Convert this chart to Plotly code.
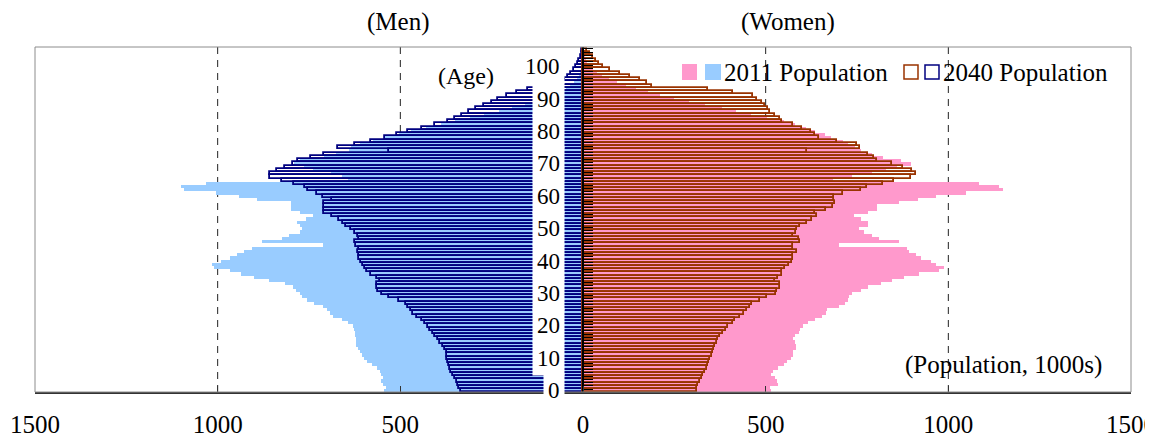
import plotly.graph_objects as go

ages = list(range(106))
age_labels = list(range(0, 101, 10))
x_tickvals = [-1500, -1000, -500, 0, 500, 1000, 1500]
x_ticktext = ["1500", "1000", "500", "0", "500", "1000", "1500"]
grid_vals = [-1000, -500, 500, 1000]

men_2011 = [545, 540, 548, 552, 548, 552, 555, 565, 578, 590,
            600, 606, 610, 615, 620, 620, 622, 625, 625, 628,
            630, 642, 660, 685, 692, 700, 712, 735, 755, 768,
            775, 785, 795, 815, 860, 900, 935, 965, 1010, 1015,
            990, 965, 946, 927, 905, 713, 878, 823, 804, 776,
            768, 775, 782, 757, 740, 776, 798, 798, 798, 891,
            941, 1004, 1092, 1100, 1031, 642, 660, 690, 740, 765,
            790, 775, 710, 675, 640, 635, 610, 575, 545, 505,
            470, 430, 390, 350, 310, 270, 230, 195, 160, 130,
            100, 80, 62, 46, 35, 25, 17, 12, 8, 5,
            3.5, 2, 1.2, 0.8, 0.5, 0.3]

women_2011 = [515, 512, 535, 530, 526, 515, 520, 535, 549, 559,
              570, 576, 576, 584, 584, 580, 576, 580, 590, 595,
              603, 617, 636, 655, 665, 669, 700, 718, 724, 727,
              735, 760, 779, 815, 845, 878, 919, 974, 988, 966,
              952, 925, 911, 892, 888, 700, 864, 809, 792, 768,
              755, 779, 779, 760, 741, 779, 806, 806, 864, 916,
              966, 1048, 1149, 1138, 1084, 683, 737, 790, 830, 860,
              897, 870, 820, 790, 760, 745, 725, 713, 680, 662,
              635, 610, 580, 550, 505, 460, 420, 380, 335, 290,
              250, 212, 178, 145, 118, 92, 70, 52, 38, 27,
              18, 12, 8, 5, 3, 2]

men_2040 = [335, 339, 342, 346, 350, 355, 360, 363, 366, 369,
            371, 372, 373, 377, 384, 392, 398, 405, 411, 418,
            425, 433, 442, 454, 464, 470, 478, 485, 505, 530,
            550, 560, 565, 565, 555, 565, 579, 590, 598, 603,
            608, 612, 614, 616, 612, 621, 625, 612, 616, 625,
            635, 648, 658, 667, 688, 710, 710, 710, 710, 686,
            713, 727, 752, 760, 792, 823, 857, 857, 838, 815,
            795, 780, 745, 710, 530, 670, 625, 579, 543, 510,
            480, 440, 405, 370, 351, 332, 312, 292, 270, 250,
            232, 208, 180, 150, 72, 57, 49, 40, 32, 26,
            20, 14, 10, 6, 4, 2]

women_2040 = [311, 313, 316, 320, 325, 329, 334, 339, 343, 345,
              348, 353, 356, 359, 361, 366, 370, 375, 384, 392,
              398, 411, 417, 431, 440, 449, 456, 463, 485, 505,
              527, 532, 538, 540, 525, 535, 545, 545, 552, 563,
              572, 575, 576, 587, 576, 576, 593, 590, 576, 582,
              587, 595, 614, 628, 641, 636, 664, 683, 691, 686,
              686, 713, 760, 778, 820, 851, 897, 911, 900, 875,
              845, 805, 796, 780, 614, 758, 751, 696, 645, 635,
              623, 600, 575, 546, 540, 525, 513, 507, 499, 491,
              477, 466, 411, 343, 190, 175, 156, 129, 100, 74,
              55, 45, 36, 27, 19, 11]

C_MEN11 = "#99CCFF"
C_WOM11 = "#FF99CC"
C_MEN40 = "#000080"
C_WOM40 = "#993300"
FONT = "Liberation Serif, DejaVu Serif, serif"

# page offset of the plot div (default body margin)
OFF = 8
W, H = 1153 - OFF, 440 - OFF
PL, PR, PT, PB = 35, 1131, 47, 392  # plot area in screen pixels

fig = go.Figure()
fig.add_trace(go.Bar(y=ages, x=[-v for v in men_2011], orientation="h",
                     marker=dict(color=C_MEN11, line=dict(width=0)), name="Men 2011"))
fig.add_trace(go.Bar(y=ages, x=women_2011, orientation="h",
                     marker=dict(color=C_WOM11, line=dict(width=0)), name="Women 2011"))
fig.add_trace(go.Bar(y=ages, x=[-v for v in men_2040], orientation="h",
                     marker=dict(color="rgba(0,0,0,0)", line=dict(color=C_MEN40, width=1.8)),
                     name="Men 2040"))
fig.add_trace(go.Bar(y=ages, x=women_2040, orientation="h",
                     marker=dict(color="rgba(0,0,0,0)", line=dict(color=C_WOM40, width=1.8)),
                     name="Women 2040"))


def px_x(px):
    return (px - PL) / float(PR - PL)


def px_y(py):
    return (PB - py) / float(PB - PT)


shapes = []
for v in grid_vals:
    shapes.append(dict(type="line", xref="x", yref="paper", x0=v, x1=v, y0=0, y1=1,
                       line=dict(color="#222222", width=1, dash="7px,6px"), layer="below"))
shapes.append(dict(type="rect", xref="paper", yref="paper", x0=0, x1=1, y0=0, y1=1,
                   line=dict(color="#8c8c8c", width=1), layer="above"))

# legend swatches
shapes.append(dict(type="rect", xref="paper", yref="paper", x0=px_x(682), x1=px_x(697),
                   y0=px_y(80), y1=px_y(64), fillcolor=C_WOM11, line=dict(width=0)))
shapes.append(dict(type="rect", xref="paper", yref="paper", x0=px_x(705), x1=px_x(721),
                   y0=px_y(80), y1=px_y(64), fillcolor=C_MEN11, line=dict(width=0)))
shapes.append(dict(type="rect", xref="paper", yref="paper", x0=px_x(904), x1=px_x(918),
                   y0=px_y(79), y1=px_y(65), fillcolor="white", line=dict(color=C_WOM40, width=1.5)))
shapes.append(dict(type="rect", xref="paper", yref="paper", x0=px_x(925), x1=px_x(939),
                   y0=px_y(79), y1=px_y(65), fillcolor="white", line=dict(color=C_MEN40, width=1.5)))

annotations = []
for a in age_labels:
    annotations.append(dict(x=-49, y=a, xref="x", yref="y", text=str(a), showarrow=False,
                            xanchor="right", yanchor="middle", bgcolor="white", borderpad=4,
                            font=dict(family=FONT, size=23, color="black")))


def txt(text, x, y, xanchor="center", size=25):
    return dict(x=px_x(x), y=px_y(y), xref="paper", yref="paper", text=text, showarrow=False,
                xanchor=xanchor, yanchor="middle", font=dict(family=FONT, size=size, color="black"))


annotations.append(txt("(Men)", 398, 22))
annotations.append(txt("(Women)", 788, 22))
annotations.append(txt("(Age)", 466, 76, size=24))
annotations.append(txt("(Population, 1000s)", 1003, 365))
annotations.append(txt("2011 Population", 722, 72, xanchor="left"))
annotations.append(txt("2040 Population", 941, 72, xanchor="left"))

fig.update_layout(
    width=W, height=H,
    margin=dict(l=PL - OFF, r=1153 - PR, t=PT - OFF, b=440 - PB, autoexpand=False),
    barmode="overlay", bargap=0,
    plot_bgcolor="white", paper_bgcolor="white",
    showlegend=False,
    font=dict(family=FONT, size=25, color="black"),
    shapes=shapes, annotations=annotations,
    xaxis=dict(range=[-1500, 1500], tickvals=x_tickvals, ticktext=x_ticktext,
               ticks="inside", ticklen=6, tickcolor="#333333", tickwidth=1,
               showgrid=False, zeroline=False, showline=True, linecolor="#333333", linewidth=2,
               tickfont=dict(family=FONT, size=25, color="black"), ticklabelstandoff=9,
               ticklabeloverflow="allow"),
    yaxis=dict(range=[-0.4, 106.1], anchor="free", position=0.5,
               showline=True, linecolor="black", linewidth=2,
               ticks="inside", tick0=0.5, dtick=1, ticklen=9, tickcolor="black", tickwidth=1,
               showticklabels=False, showgrid=False, zeroline=False),
)

fig.write_html("out.html")
